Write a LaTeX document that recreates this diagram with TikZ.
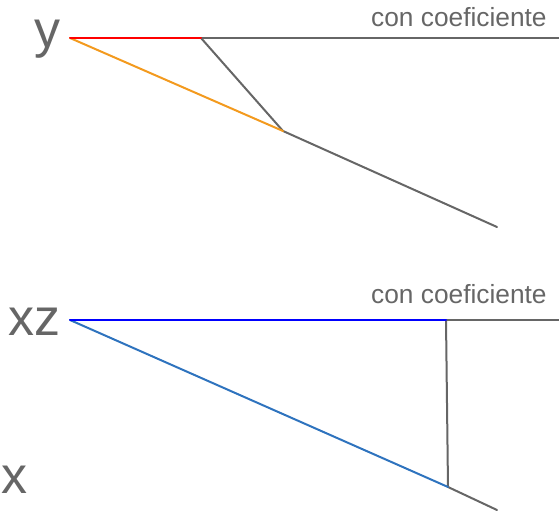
\documentclass[tikz,border=0pt]{standalone}
\usepackage{fontspec}
\setmainfont{Liberation Sans}
\usepackage{tikz}
\usetikzlibrary{calc,positioning}

\definecolor{labelgray}{HTML}{666666}
\definecolor{linegray}{HTML}{666666}
\definecolor{pathorange}{HTML}{F39A1E}
\definecolor{pathsteel}{HTML}{2E73BE}

\tikzset{
  axis label/.style={
    text=labelgray,
    inner sep=0pt,
    anchor=base west,
    font=\fontsize{52}{52}\selectfont
  }
}
\tikzset{
  coef label/.style={
    text=labelgray,
    inner sep=0pt,
    anchor=base west,
    font=\fontsize{26.3}{27}\selectfont
  }
}
\tikzset{
  segment/.style={
    draw=linegray,
    line width=2pt,
    line cap=round
  }
}

\begin{document}
\begin{tikzpicture}[x=1pt,y=-1pt]

    \useasboundingbox (0,0) rectangle (559,513);

    % ------------------------------------------------------------
    % Labels
    % ------------------------------------------------------------

    \node[axis label] (ylabel) at (34,48) {y};
    \node[axis label] (xzlabel) at (8,335) {xz};
    \node[axis label] (xlabel) at (1,493) {x};

    \node[coef label] (coefTop) at (371,27) {con coeficiente};
    \node[coef label] (coefBot) at (371,303) {con coeficiente};

    % ------------------------------------------------------------
    % Points
    % ------------------------------------------------------------

    % upper figure
    \coordinate (yO) at (70,38);
    \coordinate (yR) at (201,38);
    \coordinate (yE) at (559,38);
    \coordinate (yP) at (283,131);
    \coordinate (yT) at (497,227);

    % lower figure
    \coordinate (xO) at (70,320);
    \coordinate (xB) at (446,320);
    \coordinate (xE) at (559,320);
    \coordinate (xP) at (448,487);
    \coordinate (xT) at (497,510);

    % ------------------------------------------------------------
    % Upper figure
    % ------------------------------------------------------------

    \draw[segment] (yR) -- (yE);
    \draw[segment] (yR) -- (yP);
    \draw[segment] (yP) -- (yT);
    \draw[segment, draw=pathorange] (yO) -- (yP);
    \draw[segment, draw=red] (yO) -- (yR);

    % ------------------------------------------------------------
    % Lower figure
    % ------------------------------------------------------------

    \draw[segment] (xB) -- (xE);
    \draw[segment] (xB) -- (xP);
    \draw[segment] (xP) -- (xT);
    \draw[segment, draw=pathsteel] (xO) -- (xP);
    \draw[segment, draw=blue] (xO) -- (xB);

\end{tikzpicture}
\end{document}
